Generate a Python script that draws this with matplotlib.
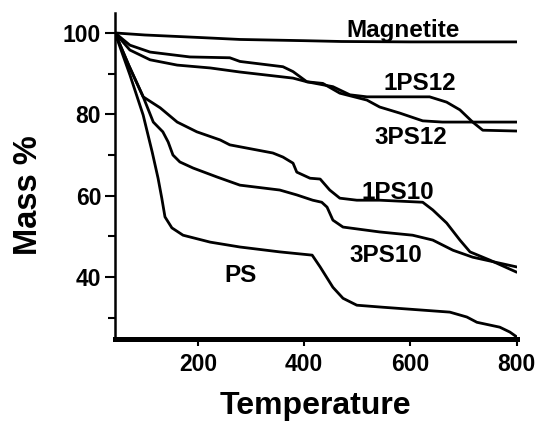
import matplotlib
matplotlib.use('Agg')
import matplotlib.pyplot as plt

plt.rcParams['font.family'] = ['Liberation Sans', 'DejaVu Sans']
plt.rcParams['font.weight'] = 'bold'

# TGA curves: temperature (C) and mass %
magnetite_t = [44, 100, 200, 279, 400, 470, 600, 800]
magnetite_m = [100, 99.5, 98.9, 98.4, 98.1, 97.9, 97.8, 97.8]

ps12a_t = [44, 72, 110, 185, 260, 279, 285, 360, 379, 405, 435, 467, 518, 542, 580, 623, 660, 800]
ps12a_m = [100, 97.0, 95.3, 94.1, 93.9, 93.0, 92.9, 91.7, 90.5, 88.0, 87.6, 85.2, 83.5, 81.8, 80.3, 78.4, 78.1, 78.1]

ps12b_t = [44, 72, 110, 161, 223, 279, 379, 405, 454, 486, 518, 542, 636, 668, 693, 717, 736, 800]
ps12b_m = [100, 95.8, 93.4, 92.1, 91.4, 90.4, 88.9, 88.0, 86.8, 84.8, 84.3, 84.3, 84.3, 83.0, 81.1, 78.1, 76.1, 75.9]

ps10a_t = [44, 70, 97, 129, 161, 198, 242, 260, 341, 360, 379, 386, 411, 430, 448, 467, 499, 542,
           623, 642, 668, 693, 712, 749, 800]
ps10a_m = [100, 92.0, 84.3, 81.6, 78.1, 75.7, 73.7, 72.5, 70.5, 69.5, 68.0, 65.8, 64.3, 64.1, 61.4, 59.4, 58.9, 58.9,
           58.4, 56.5, 53.3, 49.1, 46.2, 44.2, 41.2]

ps10b_t = [44, 70, 97, 116, 134, 144, 153, 166, 191, 236, 279, 354, 386, 416, 433, 443, 454, 473, 542,
           604, 642, 680, 717, 800]
ps10b_m = [100, 92.0, 84.3, 78.1, 75.7, 73.2, 70.0, 68.3, 66.8, 64.6, 62.6, 61.4, 60.2, 58.9, 58.4, 57.2, 54.0, 52.3, 51.1,
           50.3, 49.1, 46.6, 44.9, 42.5]

ps_t = [44, 72, 97, 114, 125, 132, 138, 151, 172, 223, 279, 354, 415, 430, 454, 473, 499, 548,
        674, 706, 725, 768, 787, 800]
ps_m = [100, 89.7, 79.8, 70.7, 64.3, 59.4, 54.8, 52.1, 50.3, 48.6, 47.4, 46.2, 45.4, 42.5, 37.5, 34.8, 33.1, 32.6,
        31.4, 30.2, 28.9, 27.7, 26.5, 25.3]

series = [
    (magnetite_t, magnetite_m),
    (ps12a_t, ps12a_m),
    (ps12b_t, ps12b_m),
    (ps10a_t, ps10a_m),
    (ps10b_t, ps10b_m),
    (ps_t, ps_m),
]

labels = ['Magnetite', '1PS12', '3PS12', '1PS10', '3PS10', 'PS']
label_t = [586, 617, 600, 576, 553, 281]
label_m = [98.9, 86.0, 72.6, 59.1, 43.7, 38.7]

fig = plt.figure(figsize=(5.4, 4.25), dpi=100)
ax = fig.add_axes([0.213, 0.2024, 0.744, 0.767])

for t, m in series:
    ax.plot(t, m, color='black', lw=2.0, solid_joinstyle='round', solid_capstyle='round')

for name, x, y in zip(labels, label_t, label_m):
    ax.text(x, y, name, ha='center', va='baseline', fontsize=17.5, fontweight='bold')

ax.set_xlim(44, 800)
ax.set_ylim(24.8, 104.9)
ax.set_xticks([200, 400, 600, 800])
ax.set_yticks([40, 60, 80, 100])
ax.set_yticks([30, 50, 70, 90], minor=True)

ax.spines['top'].set_visible(False)
ax.spines['right'].set_visible(False)
ax.spines['bottom'].set_linewidth(3.6)
ax.spines['left'].set_linewidth(1.8)
ax.tick_params(axis='both', which='major', direction='out', length=7, width=1.5,
               labelsize=16.5, pad=3)
ax.tick_params(axis='y', which='minor', direction='out', length=5, width=1.5)
ax.tick_params(axis='x', which='major', length=5, pad=5)

ax.set_xlabel('Temperature', fontsize=23, fontweight='bold')
ax.set_ylabel('Mass %', fontsize=23.5, fontweight='bold')
ax.xaxis.set_label_coords(0.5, -0.16)
ax.yaxis.set_label_coords(-0.216, 0.44)
ax.yaxis.label.set_va('center')

fig.savefig('out.png', dpi=100)
